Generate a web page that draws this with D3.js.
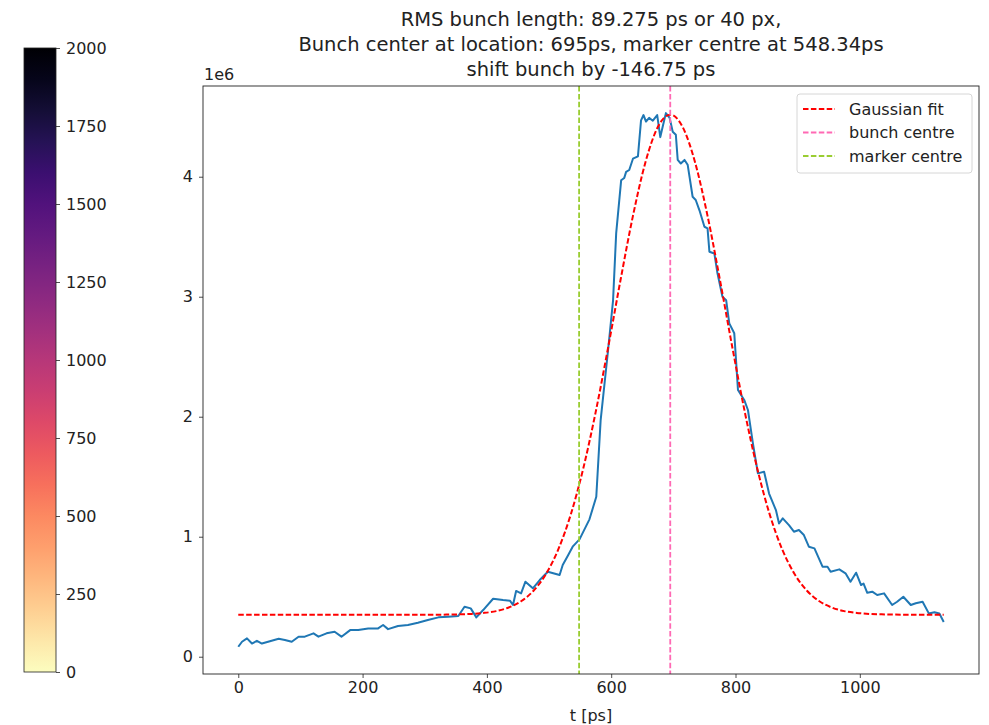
<!DOCTYPE html>
<html>
<head>
<meta charset="utf-8">
<script src="https://cdn.jsdelivr.net/npm/d3@7"></script>
<style>
  body { margin: 0; background: #fff; }
  svg text { font-family: "DejaVu Sans", sans-serif; fill: #222; }
  .axis path, .axis line { stroke: #222; stroke-width: 0.8; }
</style>
</head>
<body>
<svg id="chart" width="989" height="725"></svg>
<script>
// measured bunch profile, t in ps, intensity in units of 1e6
const tValues = [0, 6, 14, 22, 30, 38, 48, 65, 75, 86, 97, 107, 121, 129, 142, 155, 166, 180, 193, 209,
  225, 233, 241, 257, 273, 289, 305, 322, 338, 354, 364, 374, 383, 394, 410, 426, 437, 442, 447, 455,
  462, 474, 485, 498, 517, 522, 530, 538, 549, 565, 576, 583, 595, 603, 608, 616, 621, 624, 629, 635,
  643, 648, 652, 656, 661, 667, 674, 679, 683, 688, 694, 699, 704, 707, 712, 718, 723, 731, 736, 742,
  750, 755, 758, 766, 771, 779, 785, 790, 798, 804, 814, 820, 828, 836, 846, 854, 865, 870, 876, 886,
  894, 902, 910, 918, 927, 940, 948, 953, 967, 977, 985, 994, 1002, 1006, 1012, 1020, 1028, 1039, 1052, 1060,
  1070, 1082, 1090, 1101, 1111, 1120, 1128, 1135];
const signal = [0.083, 0.125, 0.153, 0.11, 0.133, 0.11, 0.125, 0.15, 0.14, 0.125, 0.167, 0.167, 0.195, 0.167, 0.195, 0.208, 0.167, 0.222, 0.222, 0.236,
  0.236, 0.264, 0.23, 0.256, 0.264, 0.283, 0.306, 0.328, 0.333, 0.339, 0.417, 0.403, 0.328, 0.389, 0.483, 0.472, 0.467, 0.431, 0.548, 0.528,
  0.625, 0.57, 0.639, 0.708, 0.681, 0.764, 0.839, 0.917, 0.978, 1.145, 1.333, 1.97, 2.556, 2.97, 3.528, 3.97, 3.99, 4.04, 4.056, 4.15,
  4.17, 4.47, 4.514, 4.46, 4.49, 4.467, 4.514, 4.33, 4.42, 4.53, 4.49, 4.375, 4.35, 4.14, 4.11, 4.14, 4.10, 3.833, 3.806, 3.72,
  3.583, 3.57, 3.375, 3.36, 3.195, 3.0, 2.97, 2.778, 2.695, 2.222, 2.14, 2.056, 1.778, 1.528, 1.542, 1.36, 1.222, 1.11, 1.153, 1.097,
  1.042, 1.056, 1.014, 0.917, 0.903, 0.75, 0.75, 0.708, 0.728, 0.695, 0.625, 0.70, 0.597, 0.61, 0.533, 0.542, 0.514, 0.528, 0.431, 0.458,
  0.5, 0.431, 0.445, 0.458, 0.361, 0.37, 0.36, 0.29];

// gaussian fit curve
const fitT = [0, 295, 315, 335, 355, 375, 395, 415, 435, 455, 475, 495, 515, 535, 555, 575, 595, 615, 635, 655, 675,
  695, 715, 735, 755, 775, 795, 815, 835, 855, 875, 895, 915, 935, 955, 975, 995, 1015, 1035, 1055, 1075, 1095, 1135];
const fitValues = [0.35, 0.350, 0.350, 0.351, 0.353, 0.357, 0.365, 0.380, 0.410, 0.462, 0.550, 0.689, 0.896, 1.186, 1.568, 2.038, 2.575, 3.139, 3.674, 4.119, 4.414,
  4.517, 4.414, 4.119, 3.674, 3.139, 2.575, 2.038, 1.568, 1.186, 0.896, 0.689, 0.550, 0.462, 0.410, 0.380, 0.365, 0.357, 0.353, 0.351, 0.350, 0.350, 0.35];

const bunchCentre = 695;
const markerCentre = 548.34;

const xTicks = [0, 200, 400, 600, 800, 1000];
const yTicks = [0, 1, 2, 3, 4];
const colorTicks = [0, 250, 500, 750, 1000, 1250, 1500, 1750, 2000];

const titleLines = [
  "RMS bunch length: 89.275 ps or 40 px,",
  "Bunch center at location: 695ps, marker centre at 548.34ps",
  "shift bunch by -146.75 ps"
];
const legendItems = [
  { label: "Gaussian fit", color: "red" },
  { label: "bunch centre", color: "hotpink" },
  { label: "marker centre", color: "yellowgreen" }
];

const svg = d3.select("#chart");
const plot = { left: 203, right: 979, top: 86, bottom: 674 };
const tickFont = "16px";

const xScale = d3.scaleLinear().domain([-56.75, 1191.75]).range([plot.left, plot.right]);
const yScale = d3.scaleLinear().domain([-0.144, 4.756]).range([plot.bottom, plot.top]);

svg.append("defs").append("clipPath").attr("id", "clip")
  .append("rect")
  .attr("x", plot.left).attr("y", plot.top)
  .attr("width", plot.right - plot.left).attr("height", plot.bottom - plot.top);

const g = svg.append("g").attr("clip-path", "url(#clip)");

const dash = "5.5,2.4";

// signal line
const signalData = tValues.map((t, i) => [t, signal[i]]);
g.append("path")
  .datum(signalData)
  .attr("fill", "none")
  .attr("stroke", "#1f77b4")
  .attr("stroke-width", 2)
  .attr("stroke-linejoin", "round")
  .attr("d", d3.line().x(d => xScale(d[0])).y(d => yScale(d[1])));

// fit line
const fitData = fitT.map((t, i) => [t, fitValues[i]]);
g.append("path")
  .datum(fitData)
  .attr("fill", "none")
  .attr("stroke", "red")
  .attr("stroke-width", 2)
  .attr("stroke-dasharray", dash)
  .attr("d", d3.line().curve(d3.curveMonotoneX).x(d => xScale(d[0])).y(d => yScale(d[1])));

// vertical lines
g.append("line")
  .attr("x1", xScale(bunchCentre)).attr("x2", xScale(bunchCentre))
  .attr("y1", plot.top).attr("y2", plot.bottom)
  .attr("stroke", "hotpink").attr("stroke-width", 1.8).attr("stroke-dasharray", dash);
g.append("line")
  .attr("x1", xScale(markerCentre)).attr("x2", xScale(markerCentre))
  .attr("y1", plot.top).attr("y2", plot.bottom)
  .attr("stroke", "yellowgreen").attr("stroke-width", 1.8).attr("stroke-dasharray", dash);

// frame
svg.append("rect")
  .attr("x", plot.left).attr("y", plot.top)
  .attr("width", plot.right - plot.left).attr("height", plot.bottom - plot.top)
  .attr("fill", "none").attr("stroke", "#222").attr("stroke-width", 0.9);

// axes
const xAxis = svg.append("g").attr("class", "axis")
  .attr("transform", `translate(0, ${plot.bottom})`)
  .call(d3.axisBottom(xScale).tickValues(xTicks).tickSize(4).tickSizeOuter(0).tickPadding(4).tickFormat(d3.format("d")));
const yAxis = svg.append("g").attr("class", "axis")
  .attr("transform", `translate(${plot.left}, 0)`)
  .call(d3.axisLeft(yScale).tickValues(yTicks).tickSize(4).tickSizeOuter(0).tickPadding(6).tickFormat(d3.format("d")));
[xAxis, yAxis].forEach(a => {
  a.select(".domain").remove();
  a.selectAll("text").style("font-size", tickFont).attr("fill", "#222");
});

svg.append("text")
  .attr("x", plot.left + 1).attr("y", 80)
  .style("font-size", tickFont)
  .text("1e6");

svg.append("text")
  .attr("x", (plot.left + plot.right) / 2).attr("y", 721)
  .attr("text-anchor", "middle")
  .style("font-size", tickFont)
  .text("t [ps]");

// title
svg.append("g").selectAll("text")
  .data(titleLines)
  .join("text")
  .attr("x", (plot.left + plot.right) / 2)
  .attr("y", (d, i) => 26 + i * 25)
  .attr("text-anchor", "middle")
  .style("font-size", "19.5px")
  .text(d => d);

// legend
const legend = svg.append("g").attr("transform", "translate(797, 94)");
legend.append("rect")
  .attr("width", 175).attr("height", 79).attr("rx", 3)
  .attr("fill", "white").attr("fill-opacity", 0.8)
  .attr("stroke", "#d6d6d6");
legend.selectAll("g.item")
  .data(legendItems)
  .join("g")
  .attr("class", "item")
  .attr("transform", (d, i) => `translate(0, ${15 + i * 23.5})`)
  .each(function(d) {
    const item = d3.select(this);
    item.append("line")
      .attr("x1", 6).attr("x2", 38)
      .attr("stroke", d.color).attr("stroke-width", 2).attr("stroke-dasharray", dash);
    item.append("text")
      .attr("x", 52).attr("dy", "0.35em")
      .style("font-size", tickFont)
      .text(d.label);
  });

// colorbar
const cbar = { x: 24, w: 32, top: 48, bottom: 672 };
const cScale = d3.scaleLinear().domain([0, 2000]).range([cbar.bottom, cbar.top]);
const grad = svg.select("defs").append("linearGradient")
  .attr("id", "cgrad")
  .attr("x1", 0).attr("y1", 1).attr("x2", 0).attr("y2", 0);
d3.range(0, 1.0001, 0.05).forEach(s => {
  grad.append("stop")
    .attr("offset", s)
    .attr("stop-color", d3.interpolateMagma(1 - s));
});
svg.append("rect")
  .attr("x", cbar.x).attr("y", cbar.top)
  .attr("width", cbar.w).attr("height", cbar.bottom - cbar.top)
  .attr("fill", "url(#cgrad)")
  .attr("stroke", "#222").attr("stroke-width", 0.8);
const cAxis = svg.append("g").attr("class", "axis")
  .attr("transform", `translate(${cbar.x + cbar.w}, 0)`)
  .call(d3.axisRight(cScale).tickValues(colorTicks).tickSize(4).tickSizeOuter(0).tickPadding(6).tickFormat(d3.format("d")));
cAxis.select(".domain").remove();
cAxis.selectAll("text").style("font-size", tickFont).attr("fill", "#222");
</script>
</body>
</html>
